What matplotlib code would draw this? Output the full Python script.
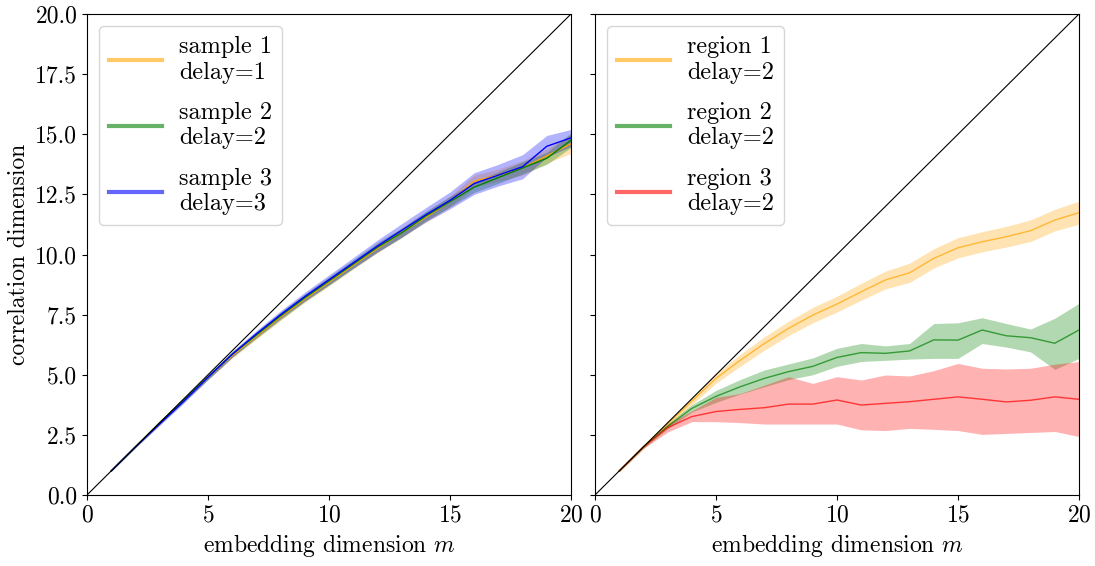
import numpy as np
import matplotlib.pyplot as plt
from matplotlib.lines import Line2D

plt.rcParams['font.family'] = 'serif'
plt.rcParams['font.serif'] = ['cmr10']
plt.rcParams['mathtext.fontset'] = 'cm'
plt.rcParams['axes.formatter.use_mathtext'] = True
plt.rcParams['font.size'] = 17

m = np.arange(1, 21)

# surrogate samples: mean correlation dimension and spread
s1_mean = [1.0, 2.0, 3.0, 3.95, 4.9, 5.8, 6.6, 7.4, 8.15, 8.85, 9.55, 10.25, 10.9, 11.55, 12.2, 13.05, 13.3, 13.6, 14.1, 14.6]
s1_err = [0.02, 0.04, 0.06, 0.08, 0.1, 0.12, 0.12, 0.14, 0.14, 0.16, 0.16, 0.18, 0.2, 0.2, 0.22, 0.25, 0.25, 0.3, 0.3, 0.4]
s2_mean = [1.0, 2.0, 3.0, 3.95, 4.9, 5.85, 6.65, 7.45, 8.2, 8.9, 9.6, 10.3, 10.9, 11.6, 12.2, 12.8, 13.2, 13.6, 14.0, 14.75]
s2_err = [0.02, 0.04, 0.06, 0.08, 0.1, 0.12, 0.14, 0.16, 0.16, 0.18, 0.18, 0.2, 0.2, 0.2, 0.22, 0.22, 0.24, 0.25, 0.25, 0.3]
s3_mean = [1.0, 2.0, 2.95, 3.9, 4.9, 5.85, 6.7, 7.5, 8.25, 8.95, 9.65, 10.35, 11.0, 11.65, 12.25, 12.95, 13.3, 13.65, 14.5, 14.85]
s3_err = [0.02, 0.04, 0.06, 0.08, 0.1, 0.12, 0.14, 0.16, 0.18, 0.2, 0.22, 0.25, 0.28, 0.3, 0.35, 0.45, 0.45, 0.5, 0.45, 0.35]

# tissue regions
r1_mean = [1.0, 2.0, 2.95, 3.9, 4.85, 5.6, 6.3, 6.93, 7.48, 7.94, 8.45, 8.94, 9.24, 9.84, 10.28, 10.53, 10.74, 10.99, 11.43, 11.74]
r1_err = [0.03, 0.06, 0.1, 0.15, 0.2, 0.25, 0.28, 0.3, 0.32, 0.33, 0.35, 0.37, 0.4, 0.4, 0.42, 0.42, 0.43, 0.45, 0.45, 0.48]
r2_mean = [1.0, 2.0, 2.85, 3.6, 4.1, 4.5, 4.85, 5.13, 5.35, 5.72, 5.92, 5.89, 5.99, 6.45, 6.44, 6.86, 6.62, 6.54, 6.31, 6.86]
r2_lo = [0.97, 1.94, 2.75, 3.45, 3.85, 4.2, 4.5, 4.8, 5.0, 5.35, 5.55, 5.6, 5.65, 5.68, 5.68, 6.3, 6.15, 5.95, 5.22, 5.68]
r2_hi = [1.03, 2.06, 2.95, 3.75, 4.35, 4.8, 5.2, 5.45, 5.7, 6.1, 6.3, 6.2, 6.3, 7.13, 7.16, 7.37, 7.13, 6.9, 7.35, 7.97]
r3_mean = [1.0, 2.0, 2.8, 3.26, 3.47, 3.56, 3.63, 3.78, 3.78, 3.95, 3.74, 3.81, 3.88, 3.98, 4.08, 3.98, 3.87, 3.94, 4.08, 3.98]
r3_lo = [0.97, 1.93, 2.62, 3.05, 3.05, 3.01, 2.95, 2.95, 2.95, 2.95, 2.71, 2.68, 2.77, 2.73, 2.68, 2.52, 2.56, 2.6, 2.64, 2.43]
r3_hi = [1.03, 2.07, 2.95, 3.5, 4.06, 4.22, 4.57, 4.92, 4.64, 4.92, 4.78, 4.99, 4.95, 5.17, 5.47, 5.27, 5.24, 5.27, 5.44, 5.55]

fig = plt.figure(figsize=(10.95, 5.66), dpi=100)
ax1 = fig.add_axes([87/1095, 71/566, 484/1095, 481/566])
ax2 = fig.add_axes([595/1095, 71/566, 484/1095, 481/566], sharey=ax1)

left = [(s1_mean, s1_err, 'orange', 'sample 1\ndelay=1'),
        (s2_mean, s2_err, 'green', 'sample 2\ndelay=2'),
        (s3_mean, s3_err, 'blue', 'sample 3\ndelay=3')]
handles = []
for mean, err, c, lab in left:
    mean = np.array(mean)
    err = np.array(err)
    ax1.fill_between(m, mean - err, mean + err, color=c, alpha=0.3, lw=0)
    ax1.plot(m, mean, color=c, lw=1)
    handles.append(Line2D([], [], color=c, alpha=0.6, lw=3, label=lab))

right = [(r1_mean, np.array(r1_mean) - r1_err, np.array(r1_mean) + r1_err, 'orange', 'region 1\ndelay=2'),
         (r2_mean, r2_lo, r2_hi, 'green', 'region 2\ndelay=2'),
         (r3_mean, r3_lo, r3_hi, 'red', 'region 3\ndelay=2')]
handles2 = []
for mean, lo, hi, c, lab in right:
    ax2.fill_between(m, lo, hi, color=c, alpha=0.3, lw=0)
    ax2.plot(m, mean, color=c, lw=1, alpha=0.7)
    handles2.append(Line2D([], [], color=c, alpha=0.6, lw=3, label=lab))

for ax in (ax1, ax2):
    ax.plot([0, 20], [0, 20], color='black', lw=0.8)
    ax.set_xlim(0, 20)
    ax.set_ylim(0, 20)
    ax.set_xticks([0, 5, 10, 15, 20])
    ax.set_yticks(np.arange(0, 20.1, 2.5))
    ax.set_xlabel('embedding dimension $m$')

ax1.set_ylabel('correlation dimension')
ax1.yaxis.set_major_formatter(plt.FormatStrFormatter('%.1f'))
plt.setp(ax2.get_yticklabels(), visible=False)

leg_kw = dict(loc='upper left', handlelength=2.2, fontsize=17.5,
              labelspacing=0.75, handletextpad=0.7)
ax1.legend(handles=handles, **leg_kw)
ax2.legend(handles=handles2, **leg_kw)

fig.savefig('out.png', dpi=100)
